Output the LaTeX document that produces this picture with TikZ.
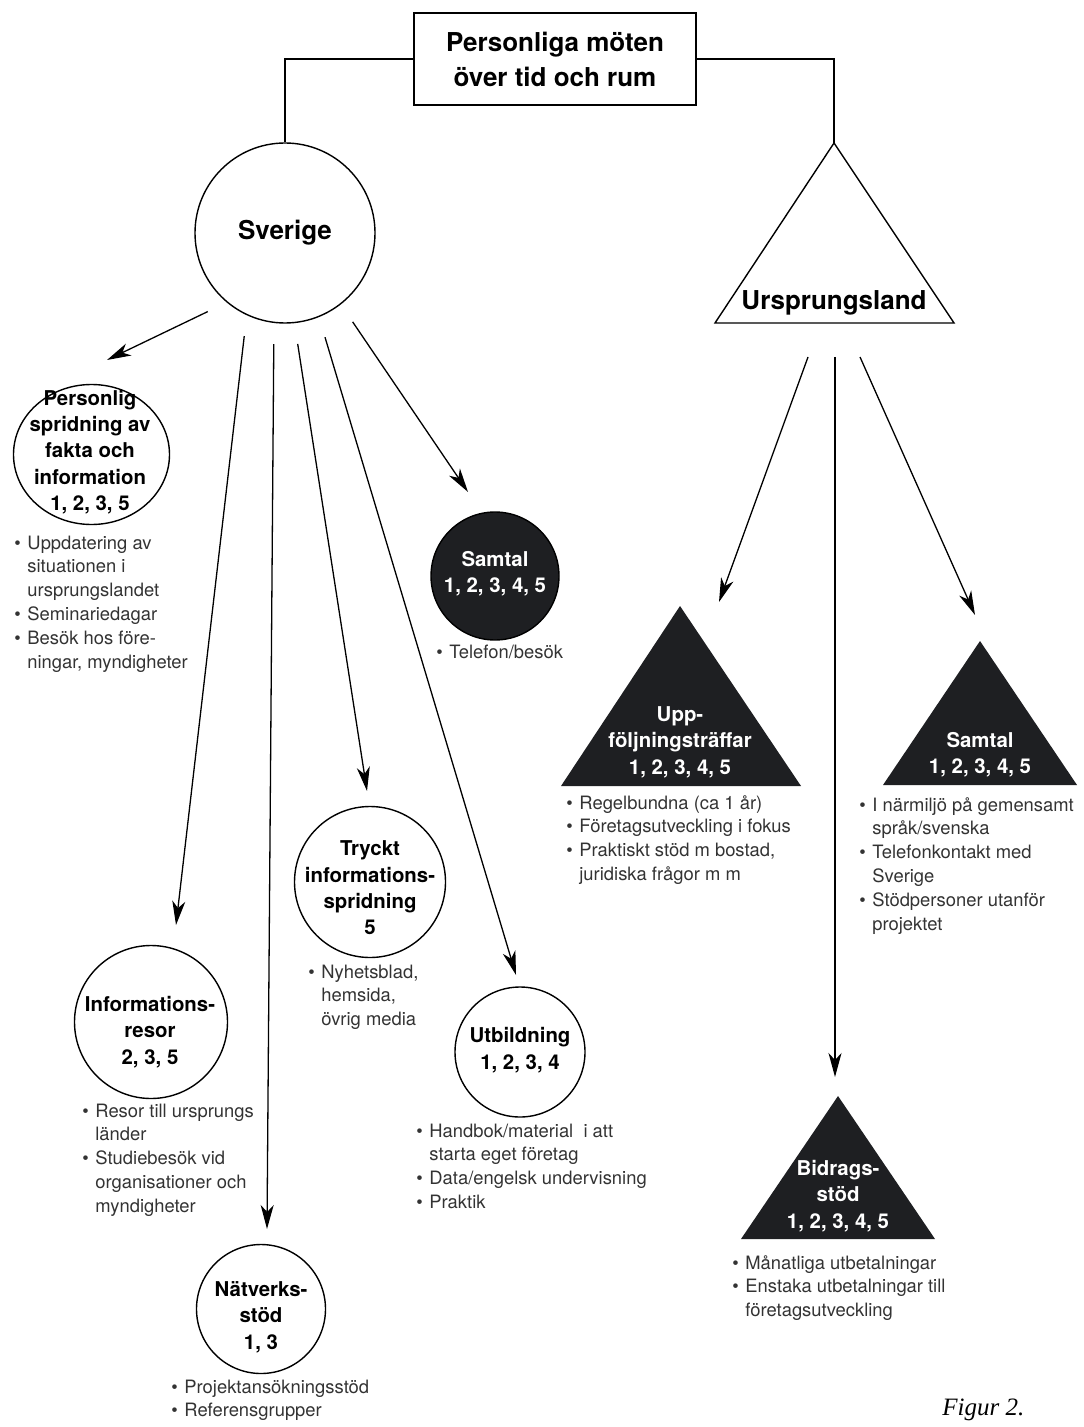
\documentclass[tikz,border=0pt]{standalone}
\usepackage{fontspec}
\setmainfont{TeX Gyre Heros}
\newfontfamily\figfont{Liberation Serif}
\usetikzlibrary{arrows.meta,shapes.geometric,calc}
\definecolor{inkfill}{HTML}{1E1F22}
\definecolor{listgray}{HTML}{333333}
\newcommand{\plist}[1]{\begin{tabular}[t]{@{}p{6.5pt}@{}l@{}}#1\end{tabular}}
\newcommand{\itm}{\textbullet &}
\tikzset{
  arr/.style={-{Stealth[length=12pt,width=6.5pt,inset=3.5pt]},line width=0.65pt},
  ring/.style={circle,draw,line width=0.7pt,inner sep=0pt},
  ctxt/.style={align=center,inner sep=0pt,font=\fontsize{10.2}{13.2}\selectfont\bfseries},
  wtxt/.style={ctxt,text=white},
  bigtxt/.style={align=center,inner sep=0pt,font=\fontsize{13}{17.5}\selectfont\bfseries},
  listtxt/.style={anchor=north west,inner sep=0pt,text=listgray,font=\fontsize{9.2}{11.9}\selectfont},
}
\begin{document}
\begin{tikzpicture}[x=0.5pt,y=0.5pt,yscale=-1,xscale=1]
\useasboundingbox (0,0) rectangle (1083,1427);
%rubrik
\node[draw,line width=0.7pt,minimum width=141pt,minimum height=46pt,bigtxt] (top) at (555,59) {Personliga möten\\över tid och rum};
%Sverige
\node[ring,minimum size=90pt] (sverige) at (285,233) {};
\node[bigtxt] (sverige-t) at (sverige) {Sverige};
%Ursprungsland
\coordinate (uapex) at (834,143);
\coordinate (ubase) at (834,323);
\draw[line width=0.7pt] (uapex) -- (954,323) -- (715,323) -- cycle;
\node[bigtxt] (ursprung-t) at (834,303) {Ursprungsland};
\draw[line width=0.7pt] (top.west) -| (sverige.north);
\draw[line width=0.7pt] (top.east) -| (uapex);

%cirklar
\node[ring,ellipse,minimum width=78pt,minimum height=70pt] (personlig) at (91.5,454.5) {};
\node[ctxt] (personlig-t) at (90,452) {Personlig\\spridning av\\fakta och\\information\\1, 2, 3, 5};
\node[ring,fill=inkfill,minimum size=64pt] (samtal) at (495,576) {};
\node[wtxt] (samtal-t) at (495,574) {Samtal\\1, 2, 3, 4, 5};
\node[ring,minimum size=75.5pt] (tryckt) at (370,882) {};
\node[ctxt] (tryckt-t) at (370,888) {Tryckt\\informations-\\spridning\\5};
\node[ring,minimum size=76.5pt] (resor) at (151,1022) {};
\node[ctxt] (resor-t) at (150,1032) {Informations-\\resor\\2, 3, 5};
\node[ring,minimum size=65pt] (utb) at (520,1052) {};
\node[ctxt] (utb-t) at (520,1050) {Utbildning\\1, 2, 3, 4};
\node[ring,minimum size=64.5pt] (natverk) at (261,1309) {};
\node[ctxt] (natverk-t) at (261,1317) {Nätverks-\\stöd\\1, 3};

%trianglar
\fill[inkfill] (680,606) -- (801,786) -- (561,786) -- cycle;
\node[wtxt] (uppf-t) at (680,742) {Upp-\\följningsträffar\\1, 2, 3, 4, 5};
\fill[inkfill] (980,641) -- (1077,785) -- (883,785) -- cycle;
\node[wtxt] (samtal2-t) at (980,755) {Samtal\\1, 2, 3, 4, 5};
\fill[inkfill] (838,1096) -- (935,1239) -- (741,1239) -- cycle;
\node[wtxt] (bidrag-t) at (838,1196) {Bidrags-\\stöd\\1, 2, 3, 4, 5};

%pilar
\coordinate (tipP) at (107,360);
\coordinate (tipI) at (176,925);
\coordinate (tipN) at (267,1229);
\coordinate (tipT) at (367,791);
\coordinate (tipU) at (516,975);
\coordinate (tipS) at (468,492);
\draw[arr,shorten <=10.5pt] (sverige.-130) -- (tipP);
\draw[arr,shorten <=10.5pt] (sverige.-115.6) -- (tipI);
\draw[arr,shorten <=10.5pt] (sverige.-97.8) -- (tipN);
\draw[arr,shorten <=10.5pt] (sverige.-84.9) -- (tipT);
\draw[arr,shorten <=10.5pt] (sverige.-68.2) -- (tipU);
\draw[arr,shorten <=10.5pt] (sverige.-52.2) -- (tipS);
\coordinate (uL) at ($(ubase)+(-26,34)$);
\coordinate (uM) at ($(ubase)+(1,34)$);
\coordinate (uR) at ($(ubase)+(26,34)$);
\draw[arr] (uL) -- (719,602);
\draw[arr] (uM) -- (835,1077);
\draw[arr] (uR) -- (975,615);

%listor
\node[listtxt] (lista-p) at (14,532) {\plist{\itm Uppdatering av\\ & situationen i\\ & ursprungslandet\\ \itm Seminariedagar\\ \itm Besök hos före-\\ & ningar, myndigheter}};
\node[listtxt] (lista-s) at (436,641) {\plist{\itm Telefon/besök}};
\node[listtxt] (lista-t) at (308,961) {\plist{\itm Nyhetsblad,\\ & hemsida,\\ & övrig media}};
\node[listtxt] (lista-i) at (82,1100) {\plist{\itm Resor till ursprungs\\ & länder\\ \itm Studiebesök vid\\ & organisationer och\\ & myndigheter}};
\node[listtxt] (lista-u) at (416,1120) {\plist{\itm Handbok/material\ \ i att\\ & starta eget företag\\ \itm Data/engelsk undervisning\\ \itm Praktik}};
\node[listtxt] (lista-n) at (171,1376) {\plist{\itm Projektansökningsstöd\\ \itm Referensgrupper}};
\node[listtxt] (lista-up) at (566,792) {\plist{\itm Regelbundna (ca 1 år)\\ \itm Företagsutveckling i fokus\\ \itm Praktiskt stöd m bostad,\\ & juridiska frågor m m}};
\node[listtxt] (lista-st) at (859,794) {\plist{\itm I närmiljö på gemensamt\\ & språk/svenska\\ \itm Telefonkontakt med\\ & Sverige\\ \itm Stödpersoner utanför\\ & projektet}};
\node[listtxt] (lista-b) at (732,1252) {\plist{\itm Månatliga utbetalningar\\ \itm Enstaka utbetalningar till\\ & företagsutveckling}};

\node[anchor=base west,inner sep=0pt,font=\figfont\fontsize{12.5}{14}\selectfont\itshape] (figur) at (942,1415) {Figur 2.};
\end{tikzpicture}
\end{document}
